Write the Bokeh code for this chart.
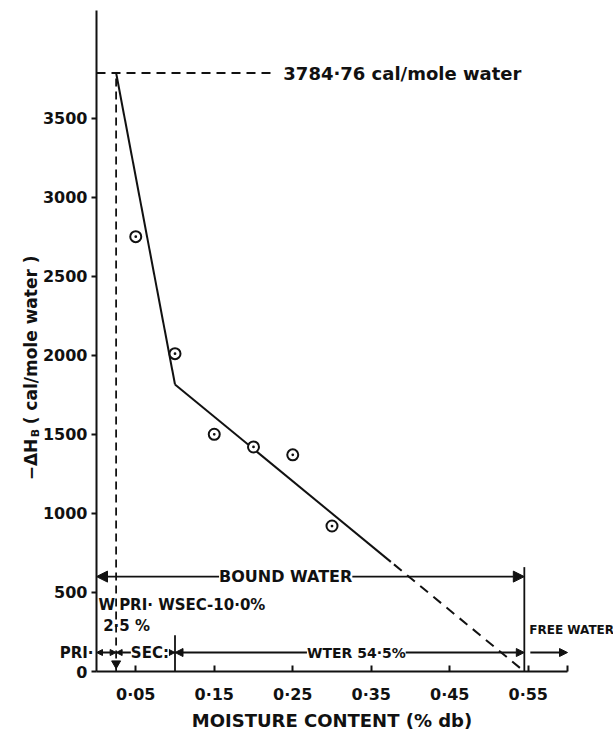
import math

from bokeh.plotting import figure
from bokeh.models import Range1d, FixedTicker, Label, Arrow, NormalHead
from bokeh.embed import file_html
from bokeh.resources import INLINE

# Measured points: moisture content (fraction, dry basis) vs heat of binding
moisture = [0.05, 0.10, 0.15, 0.20, 0.25, 0.30]
heat_of_binding = [2750, 2010, 1500, 1420, 1370, 920]

# Two-segment fit: peak at the primary limit, knee at the secondary limit,
# extrapolated to zero at the bound-water limit
fit_x = [0.025, 0.10, 0.545]
fit_y = [3784.76, 1815.0, 0.0]
fit_solid_end = 0.375

max_heat = 3784.76
primary_limit = 0.025
secondary_limit = 0.10
bound_limit = 0.545

x_ticks = [0.05, 0.15, 0.25, 0.35, 0.45, 0.55, 0.60]
x_tick_labels = ["0·05", "0·15", "0·25", "0·35", "0·45", "0·55", ""]
y_ticks = [0, 500, 1000, 1500, 2000, 2500, 3000, 3500]
y_tick_labels = ["0", "500", "1000", "1500", "2000", "2500", "3000", "3500"]

# ---------------------------------------------------------------- layout
W, H = 613, 734
LEFT, RIGHT, TOP, BOTTOM = 96, 46, 10, 63      # space around the axes box
X0, X1 = 0.0, 0.6
Y0, Y1 = 0.0, 4180.0
SX = (X1 - X0) / (W - LEFT - RIGHT)   # data units per pixel
SY = (Y1 - Y0) / (H - TOP - BOTTOM)
FONT = "DejaVu Sans"
INK = "#111111"


def dx(px):
    return px * SX


def dy(px):
    return px * SY


# the frame fills the whole canvas so that side texts are not clipped;
# the axes are pinned at x = 0 and y = 0
p = figure(width=W, height=H,
           x_range=Range1d(X0 - dx(LEFT), X1 + dx(RIGHT)),
           y_range=Range1d(Y0 - dy(BOTTOM), Y1 + dy(TOP)),
           output_backend="svg", toolbar_location=None,
           min_border_left=0, min_border_right=0,
           min_border_top=0, min_border_bottom=0)
p.outline_line_color = None
p.grid.visible = False
p.background_fill_color = "white"
p.border_fill_color = "white"

# ---------------------------------------------------------------- axes
xa = p.xaxis[0]
xa.fixed_location = 0
xa.bounds = (X0, X1)
xa.ticker = FixedTicker(ticks=x_ticks)
xa.major_label_overrides = dict(zip(x_ticks, x_tick_labels))
xa.minor_tick_line_color = None
xa.major_tick_in = 6
xa.major_tick_out = 0
xa.axis_line_width = 2
xa.major_tick_line_width = 2
xa.axis_line_color = INK
xa.major_tick_line_color = INK
xa.major_label_text_font = FONT
xa.major_label_text_font_style = "bold"
xa.major_label_text_font_size = "16px"
xa.major_label_text_color = INK
xa.major_label_standoff = 13
xa.axis_label = "MOISTURE CONTENT (% db)"
xa.axis_label_text_font = FONT
xa.axis_label_text_font_style = "bold"
xa.axis_label_text_font_size = "18px"
xa.axis_label_text_color = INK
xa.axis_label_standoff = 3

ya = p.yaxis[0]
ya.fixed_location = 0
ya.bounds = (Y0, Y1)
ya.ticker = FixedTicker(ticks=y_ticks)
ya.major_label_overrides = dict(zip(y_ticks, y_tick_labels))
ya.minor_tick_line_color = None
ya.major_tick_in = 0
ya.major_tick_out = 5
ya.axis_line_width = 2
ya.major_tick_line_width = 2
ya.axis_line_color = INK
ya.major_tick_line_color = INK
ya.major_label_text_font = FONT
ya.major_label_text_font_style = "bold"
ya.major_label_text_font_size = "16px"
ya.major_label_text_color = INK
ya.major_label_standoff = 4

# ---------------------------------------------------------------- fit lines
p.line(fit_x[:2], fit_y[:2], line_width=2, line_color=INK)
slope = (fit_y[2] - fit_y[1]) / (fit_x[2] - fit_x[1])
y_split = fit_y[1] + slope * (fit_solid_end - fit_x[1])
p.line([fit_x[1], fit_solid_end], [fit_y[1], y_split], line_width=2, line_color=INK)
p.line([fit_solid_end, fit_x[2]], [y_split, fit_y[2]], line_width=2,
       line_color=INK, line_dash="10 7", line_dash_offset=-4)

# peak reference lines
p.line([0, 0.225], [max_heat, max_heat], line_width=1.8, line_color=INK, line_dash="9 6")
p.line([primary_limit, primary_limit], [0, max_heat], line_width=1.8,
       line_color=INK, line_dash="8 5")
p.scatter([primary_limit], [dy(8)], marker="inverted_triangle", size=9,
          fill_color=INK, line_color=INK)

# region boundaries
p.line([secondary_limit, secondary_limit], [0, 230], line_width=1.8, line_color=INK)
p.line([bound_limit, bound_limit], [0, 660], line_width=1.8, line_color=INK)

# measured points
p.scatter(moisture, heat_of_binding, marker="circle_dot", size=11, line_width=2,
          line_color=INK, fill_color="white")


# ---------------------------------------------------------------- arrows
def harrow(x0, x1, y, size, both=True):
    head = dict(size=size, fill_color=INK, line_color=INK, line_width=1)
    p.add_layout(Arrow(x_start=x0, y_start=y, x_end=x1, y_end=y,
                       line_width=1.8, line_color=INK,
                       start=NormalHead(**head) if both else None,
                       end=NormalHead(**head)))


def label(x, y, text, size, align="left", bg=None, **kw):
    lab = Label(x=x, y=y, text=text, text_font=FONT, text_font_style="bold",
                text_font_size=size, text_color=INK, text_align=align,
                text_baseline="middle", **kw)
    if bg:
        lab.background_fill_color = bg
    p.add_layout(lab)


ROW = 120
harrow(0, bound_limit, 600, 11)
harrow(0, primary_limit, ROW, 6)
harrow(primary_limit, secondary_limit, ROW, 6)
harrow(secondary_limit, bound_limit, ROW, 8)
harrow(bound_limit + dx(6), X1, ROW, 8, both=False)

# ---------------------------------------------------------------- texts
label(0.238, max_heat, "3784·76 cal/mole water", "18px")
label(0.241, 600, "BOUND WATER", "16px", align="center", bg="white")
label(primary_limit - dx(1), 420, "W", "15px", align="right")
label(primary_limit + dx(3), 420, "PRI·  WSEC-10·0%", "15px")
label(primary_limit - dx(13), 290, "2·5 %", "15px")
label(-dx(3), ROW, "PRI·", "15px", align="right")
label(0.068, ROW, "SEC:", "15px", align="center", bg="white")
label(0.331, ROW, "WTER 54·5%", "14px", align="center", bg="white")
label(bound_limit + dx(5), 265, "FREE WATER", "12px")

# vertical axis title with subscript
YL_X = -dx(66)
YL_Y = 1209
label(YL_X, YL_Y, "−ΔH", "17px", angle=math.pi / 2)
label(YL_X + dx(5), YL_Y + dy(43), "B", "11px", angle=math.pi / 2)
label(YL_X, YL_Y + dy(56), "( cal/mole water )", "17px", angle=math.pi / 2)

open("out.html", "w").write(file_html(p, INLINE))
